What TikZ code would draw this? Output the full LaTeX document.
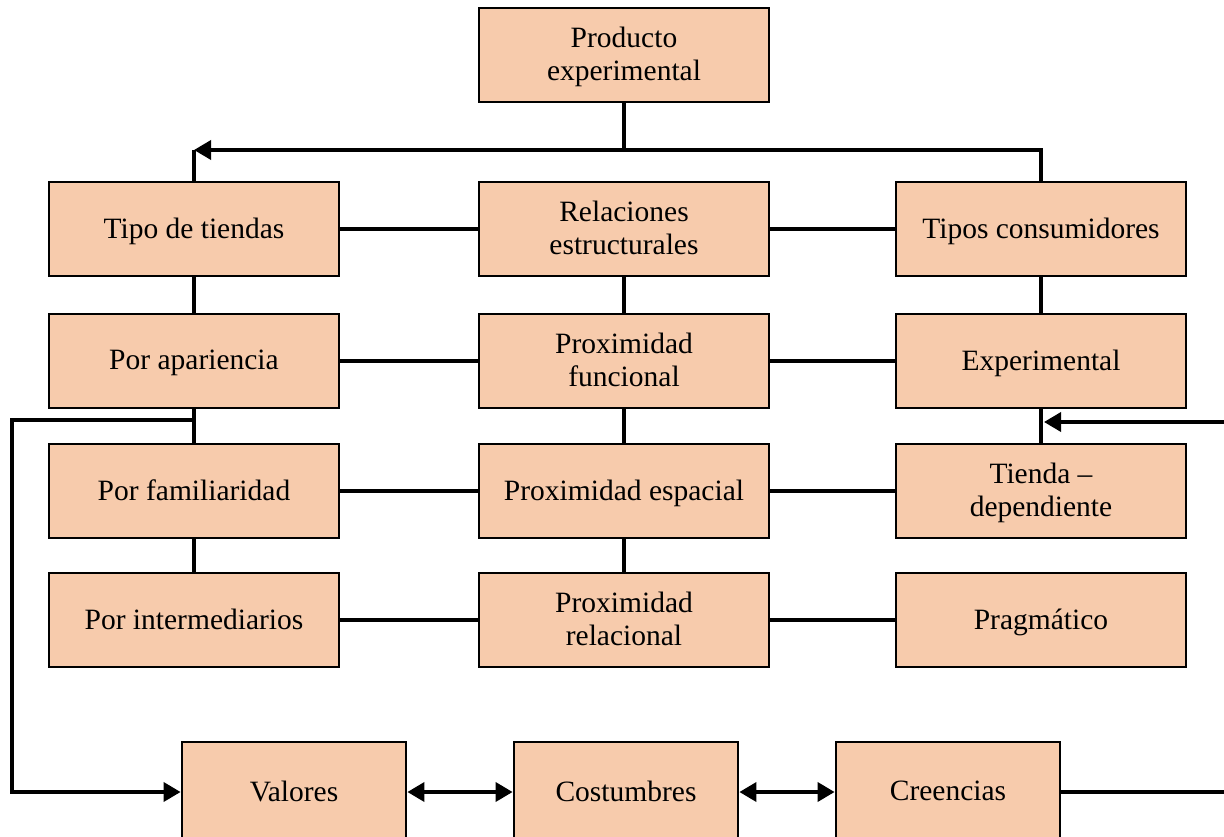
\documentclass[tikz,border=0pt]{standalone}
\usepackage{fontspec}
\setmainfont{Liberation Serif}
\usetikzlibrary{arrows.meta,calc}
\definecolor{peach}{HTML}{F7CBAC}
\begin{document}
\begin{tikzpicture}[x=1pt,y=-1pt,
  box/.style={draw=black,line width=2.8pt,fill=peach,minimum width=290pt,minimum height=94pt,
    align=center,inner sep=2pt,text depth=2pt,font=\fontsize{29.5}{33}\selectfont},
  sbox/.style={box,minimum width=224pt,minimum height=100pt},
  link/.style={line width=3.6pt},
  arr/.style={link,-{Triangle[length=17pt,width=19pt]}},
  darr/.style={link,{Triangle[length=17pt,width=19pt]}-{Triangle[length=17pt,width=19pt]}}]
\useasboundingbox (0,0) rectangle (1224,837);

% top node
\node[box] (prod) at (624,55) {Producto\\experimental};

% three columns, four rows
\node[box] (tipo)  at (194,229) {Tipo de tiendas};
\node[box] (rel)   at (624,229) {Relaciones\\estructurales};
\node[box] (tcons) at (1041,229) {Tipos consumidores};

\node[box] (apar)  at (194,361) {Por apariencia};
\node[box] (pfun)  at (624,361) {Proximidad\\funcional};
\node[box] (expe)  at (1041,361) {Experimental};

\node[box] (fam)   at (194,491) {Por familiaridad};
\node[box] (pesp)  at (624,491) {Proximidad espacial};
\node[box] (tdep)  at (1041,491) {Tienda --\\dependiente};

\node[box] (inter) at (194,620) {Por intermediarios};
\node[box] (prel)  at (624,620) {Proximidad\\relacional};
\node[box] (prag)  at (1041,620) {Pragmático};

% bottom row
\node[sbox] (val)  at (294,792) {Valores};
\node[sbox] (cost) at (626,792) {Costumbres};
\node[sbox] (cre)  at (948,792) {Creencias};

% branching from the top node
\coordinate (split) at (628,150);
\draw[link] (prod.south) -- (prod.south |- split);
\draw[arr] (tcons.north) |- (tipo.north |- split);
\draw[link] (tipo.north |- split) -- (tipo.north);

% horizontal links in each row
\foreach \a/\b/\c in {tipo/rel/tcons,apar/pfun/expe,fam/pesp/tdep,inter/prel/prag}{
  \draw[link] (\a.east) -- (\b.west);
  \draw[link] (\b.east) -- (\c.west);
}
% vertical links in each column
\foreach \a/\b in {tipo/apar,apar/fam,fam/inter,rel/pfun,pfun/pesp,pesp/prel,tcons/expe,expe/tdep}{
  \draw[link] (\a.south) -- (\b.north);
}

% loop on the left down to Valores
\coordinate (lj) at (194,420);
\coordinate (lcorner) at (12,420);
\draw[arr] (lj) -- (lcorner) |- (val.west);

% incoming line on the right
\coordinate (rin) at (1224,422);
\draw[arr,shorten >=3pt] (rin) -- (expe.south |- rin);

% bottom row links
\draw[darr] (val.east) -- (cost.west);
\draw[darr] (cost.east) -- (cre.west);
\coordinate (rout) at (1224,792);
\draw[link] (cre.east) -- (rout);
\end{tikzpicture}
\end{document}
